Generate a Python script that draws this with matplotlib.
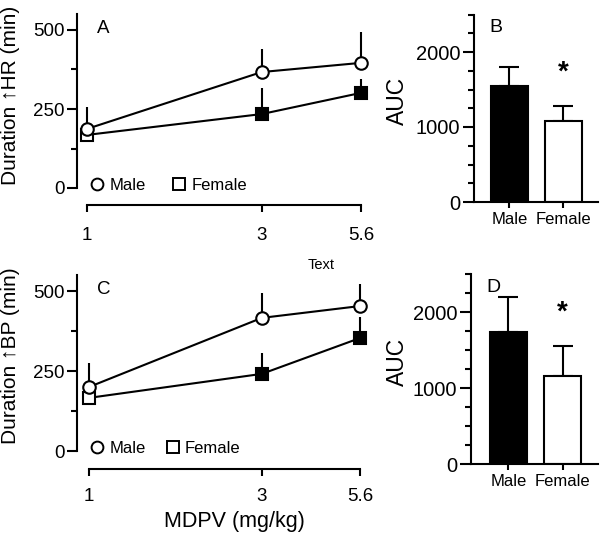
import numpy as np
import matplotlib
matplotlib.use("Agg")
import matplotlib.pyplot as plt
from matplotlib.lines import Line2D
from matplotlib.ticker import FixedLocator, NullFormatter

plt.rcParams['font.family'] = ['Liberation Sans', 'DejaVu Sans']

# ---------------- data ----------------
doses = [1, 3, 5.6]
dose_labels = ["1", "3", "5.6"]

hr_male = [187, 367, 396]
hr_male_err = [69, 73, 98]
hr_female = [168, 234, 301]
hr_female_err = [25, 82, 44]
hr_female_filled = [False, True, True]

bp_male = [200, 416, 453]
bp_male_err = [75, 78, 69]
bp_female = [166, 241, 353]
bp_female_err = [25, 65, 66]
bp_female_filled = [False, True, True]

sexes = ["Male", "Female"]
auc_hr = [1547, 1080]
auc_hr_err = [253, 200]
auc_bp = [1737, 1158]
auc_bp_err = [460, 395]
bar_colors = ["black", "white"]

W, H = 600, 533
fig = plt.figure(figsize=(W / 100, H / 100), dpi=100)


def px_axes(left, right, top, bottom):
    return fig.add_axes([left / W, 1 - bottom / H, (right - left) / W, (bottom - top) / H])


LW = 1.5


def line_panel(ax, male, male_err, female, female_err, female_filled, letter,
               x1px, x56px, left, right, xoff, xpad, sq_gap):
    per = (x56px - x1px) / np.log10(5.6)
    ax.set_xscale('log')
    ax.set_xlim(10 ** (-(x1px - left) / per), 10 ** (np.log10(5.6) + (right - x56px) / per))
    ax.set_ylim(0, 550)
    # error bars (upward only, no caps)
    ax.errorbar(doses, female, yerr=[np.zeros(3), female_err], fmt='none', ecolor='black',
                elinewidth=LW, capsize=0, zorder=2)
    ax.errorbar(doses, male, yerr=[np.zeros(3), male_err], fmt='none', ecolor='black',
                elinewidth=LW, capsize=0, zorder=2)
    ax.plot(doses, female, color='black', lw=LW, zorder=3)
    ax.plot(doses, male, color='black', lw=LW, zorder=3)
    for d, v, f in zip(doses, female, female_filled):
        ax.plot([d], [v], marker='s', ms=8, mec='black', mew=1.5,
                mfc='black' if f else 'white', zorder=4, ls='none')
    ax.plot(doses, male, marker='o', ms=9, mec='black', mew=1.5, mfc='white',
            ls='none', zorder=5)

    for s in ['top', 'right']:
        ax.spines[s].set_visible(False)
    ax.spines['left'].set_linewidth(LW)
    ax.spines['bottom'].set_linewidth(LW)
    ax.spines['bottom'].set_position(('outward', xoff * 0.72))
    ax.spines['bottom'].set_bounds(1, 5.6)
    ax.set_xticks(doses)
    ax.set_xticklabels(dose_labels)
    ax.xaxis.set_minor_locator(FixedLocator([]))
    ax.xaxis.set_minor_formatter(NullFormatter())
    ax.set_yticks([0, 250, 500])
    ax.yaxis.set_minor_locator(FixedLocator([125, 375]))
    ax.tick_params(axis='x', which='major', length=5, width=LW, labelsize=13.5, pad=xpad)
    ax.tick_params(axis='y', which='major', length=7, width=LW, labelsize=13.5, pad=2)
    ax.tick_params(axis='y', which='minor', length=4, width=LW)
    ax.text(0.09, 0.92, letter, transform=ax.transAxes, fontsize=13.5, ha='center', va='center')

    handles = [Line2D([], [], marker='o', ls='none', ms=8.5, mec='black', mew=1.4, mfc='white'),
               Line2D([], [], marker='s', ls='none', ms=8, mec='black', mew=1.4, mfc='white')]
    ax.legend(handles, sexes, loc='lower left', bbox_to_anchor=(0.046, -0.03), ncol=2,
              frameon=False, fontsize=12, handlelength=0.8, handletextpad=0.35,
              columnspacing=sq_gap, borderaxespad=0, borderpad=0)


def bar_panel(ax, vals, errs, letter, xlim, ylabel_xy):
    x = np.arange(len(sexes))
    ax.bar(x, vals, width=0.685, color=bar_colors, edgecolor='black', linewidth=LW, zorder=2)
    ax.errorbar(x, vals, yerr=[np.zeros(len(vals)), errs], fmt='none', ecolor='black',
                elinewidth=LW, capsize=7, capthick=LW, zorder=1)
    ax.set_xlim(*xlim)
    ax.set_ylim(0, 2500)
    for s in ['top', 'right']:
        ax.spines[s].set_visible(False)
    ax.spines['left'].set_linewidth(LW)
    ax.spines['bottom'].set_linewidth(LW)
    ax.set_xticks(x)
    ax.set_xticklabels(sexes)
    ax.set_yticks([0, 1000, 2000])
    ax.yaxis.set_minor_locator(FixedLocator([250, 500, 750, 1250, 1500, 1750, 2250, 2500]))
    ax.tick_params(axis='x', which='major', length=4, width=LW, labelsize=12, pad=3)
    ax.tick_params(axis='y', which='major', length=8, width=LW, labelsize=14.5, pad=2)
    ax.tick_params(axis='y', which='minor', length=4, width=LW)
    ax.text(0.175, 0.93, letter, transform=ax.transAxes, fontsize=14, ha='center', va='center')
    ax.annotate('*', xy=(x[1], vals[1] + errs[1]), xytext=(0, 24), textcoords='offset points',
                ha='center', va='center', fontsize=20, fontweight='bold')
    fig.text(ylabel_xy[0] / W, 1 - ylabel_xy[1] / H, 'AUC', rotation=90, ha='center',
             va='center', fontsize=16.5)


# Panel A
axA = px_axes(77, 370, 188 - 550 / 250 * 79, 188)
line_panel(axA, hr_male, hr_male_err, hr_female, hr_female_err, hr_female_filled,
           'A', 87, 361, 77, 370, 17, 11, 1.6)
fig.text(11 / W, 1 - 95 / H, 'Duration \u2191HR (min)', rotation=90, ha='center', va='center',
         fontsize=15)
fig.text(321 / W, 1 - 265 / H, 'Text', ha='center', va='center', fontsize=10.5)

# Panel C
axC = px_axes(77, 370, 451 - 550 / 250 * 80, 451)
line_panel(axC, bp_male, bp_male_err, bp_female, bp_female_err, bp_female_filled,
           'C', 89, 360, 77, 370, 18, 9, 1.2)
fig.text(11 / W, 1 - 356 / H, 'Duration \u2191BP (min)', rotation=90, ha='center', va='center',
         fontsize=15)
fig.text(234 / W, 1 - 522 / H, 'MDPV (mg/kg)', ha='center', va='center', fontsize=15.5)

# Panel B
axB = px_axes(474, 598, 202 - 187.5, 202)
bar_panel(axB, auc_hr, auc_hr_err, 'B', (-0.657, 1.639), (397, 101))

# Panel D
axD = px_axes(471, 598, 464 - 190, 464)
bar_panel(axD, auc_bp, auc_bp_err, 'D', (-0.694, 1.657), (397, 362))

fig.savefig('out.png', dpi=100)
